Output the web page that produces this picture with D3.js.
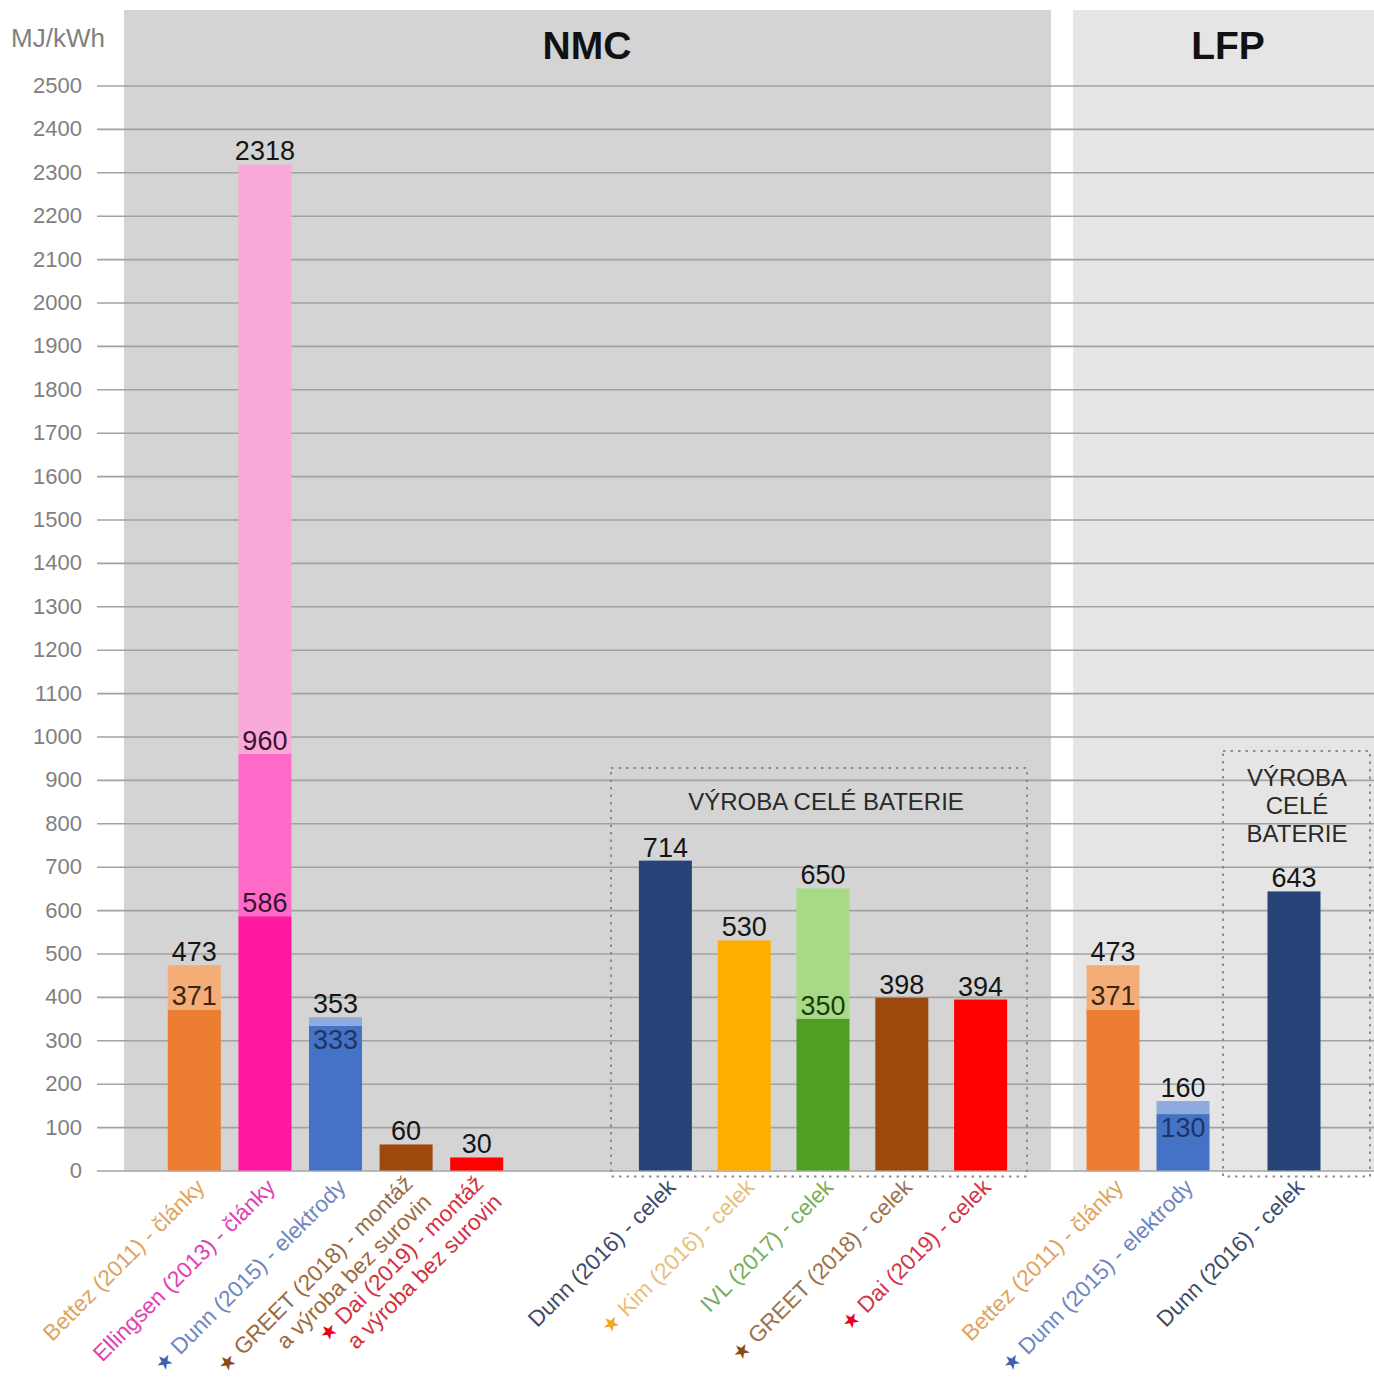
<!DOCTYPE html>
<html>
<head>
<meta charset="utf-8">
<script src="https://cdn.jsdelivr.net/npm/d3@7"></script>
<style>
  body { margin: 0; background: #fff; }
  svg { display: block; font-family: "Liberation Sans", Arial, sans-serif; }
</style>
</head>
<body>
<svg id="chart" width="1374" height="1380"></svg>
<script>
// ---- data -------------------------------------------------------------
// category labels (one array entry per line of a label)
const categories = [
  ["Bettez (2011) - články"],
  ["Ellingsen (2013) - články"],
  ["Dunn (2015) - elektrody"],
  ["GREET (2018) - montáž", "a výroba bez surovin"],
  ["Dai (2019) - montáž", "a výroba bez surovin"],
  ["Dunn (2016) - celek"],
  ["Kim (2016) - celek"],
  ["IVL (2017) - celek"],
  ["GREET (2018) - celek"],
  ["Dai (2019) - celek"],
  ["Bettez (2011) - články"],
  ["Dunn (2015) - elektrody"],
  ["Dunn (2016) - celek"]
];
// which studies carry a star mark
const starred = [false, false, true, true, true, false, true, false, true, true, false, true, false];
// bar group: 0 NMC parts, 1 NMC whole battery, 2 LFP parts, 3 LFP whole battery
const groupOf = [0, 0, 0, 0, 0, 1, 1, 1, 1, 1, 2, 2, 3];
// cumulative values of the stacked levels of each bar (MJ/kWh)
const values = [
  [371, 473], [586, 960, 2318], [333, 353], [60], [30],
  [714], [530], [350, 650], [398], [394],
  [371, 473], [130, 160], [643]
];
const yTicks = d3.range(0, 2501, 100);
const unitLabel = "MJ/kWh";
const panelTitles = ["NMC", "LFP"];
const boxTitle = "VÝROBA CELÉ BATERIE";
const boxTitleLines = ["VÝROBA", "CELÉ", "BATERIE"];

// ---- styles -----------------------------------------------------------
const barColors = [
  ["#ED7D31", "#F5AD78"], ["#FF17A2", "#FF6AC9", "#F8A9DA"], ["#4472C4", "#8EAADE"], ["#9E480E"], ["#FF0000"],
  ["#264478"], ["#FFAE00"], ["#4E9F22", "#A6DA85"], ["#9E480E"], ["#FF0000"],
  ["#ED7D31", "#F5AD78"], ["#4472C4", "#8EAADE"], ["#264478"]
];
const innerLabelColors = [
  ["#3a2412"], ["#3a1230", "#3a1230"], ["#1F3466"], [], [],
  [], [], ["#1b3a0c"], [], [],
  ["#3a2412"], ["#1F3466"], []
];
const textColors = ["#E0A45E", "#E040B4", "#6F86C0", "#9A6A42", "#D6303E",
  "#3E4C6C", "#E7C17A", "#78AE5C", "#9C7250", "#D23848",
  "#E0A45E", "#6F86C0", "#3E4C6C"];
const starColors = ["", "", "#3B63B0", "#8B4A14", "#E8001C", "", "#F5A623", "", "#8B4A14", "#E8001C", "", "#3B63B0", ""];

// ---- layout -----------------------------------------------------------
const svg = d3.select("#chart");
const y = d3.scaleLinear().domain([0, 2500]).range([1170.5, 85.5]);
const groupRanges = [[159, 512], [626, 1020], [1078, 1218], [1241, 1347]];
const barWidth = 53;
const groupScales = groupRanges.map((r, g) =>
  d3.scalePoint()
    .domain(categories.map((c, i) => i).filter(i => groupOf[i] === g))
    .range(r)
    .padding(0.5));
const cx = i => groupScales[groupOf[i]](i);

// panel backgrounds
const panels = [
  { x0: 124, x1: 1051, fill: "#d4d4d4", title: panelTitles[0] },
  { x0: 1073, x1: 1374, fill: "#e5e5e5", title: panelTitles[1] }
];
svg.selectAll("rect.panel").data(panels).join("rect")
  .attr("class", "panel")
  .attr("x", d => d.x0).attr("width", d => d.x1 - d.x0)
  .attr("y", 10).attr("height", y(0) - 10)
  .attr("fill", d => d.fill);

// gridlines and y axis labels
const yAxis = d3.axisLeft(y).tickValues(yTicks).tickFormat(d3.format("d"))
  .tickSize(-(1374 - 97)).tickPadding(15);
const ax = svg.append("g").attr("transform", "translate(97,0)").call(yAxis);
ax.select(".domain").remove();
ax.selectAll(".tick line").attr("stroke", "#a2a2a2").attr("stroke-width", 1.6)
  .attr("x1", 0).attr("x2", 1374 - 97);
ax.selectAll(".tick text").attr("fill", "#808080").attr("font-size", 22)
  .attr("font-family", "\"Liberation Sans\", Arial, sans-serif")
  .attr("x", -15);

svg.append("text").attr("x", 11).attr("y", 47)
  .attr("font-size", 26).attr("fill", "#808080").text(unitLabel);

// panel titles
svg.selectAll("text.ptitle").data(panels).join("text")
  .attr("class", "ptitle")
  .attr("x", (d, i) => i === 0 ? 587 : 1228).attr("y", 59)
  .attr("text-anchor", "middle").attr("font-size", 39).attr("font-weight", "bold")
  .attr("fill", "#111").text(d => d.title);

// bars as stacked segments
const segs = [];
values.forEach((lv, i) => lv.forEach((v, k) => {
  segs.push({ i, k, v, prev: k ? lv[k - 1] : 0, last: k === lv.length - 1, upper: k < lv.length - 1 ? lv[k + 1] : null });
}));
svg.selectAll("rect.bar").data(segs).join("rect")
  .attr("class", "bar")
  .attr("x", d => cx(d.i) - barWidth / 2).attr("width", barWidth)
  .attr("y", d => y(d.v)).attr("height", d => y(d.prev) - y(d.v))
  .attr("fill", d => barColors[d.i][d.k]);

// value labels
svg.selectAll("text.val").data(segs).join("text")
  .attr("class", "val")
  .attr("x", d => cx(d.i))
  .attr("y", d => {
    if (d.last) return y(d.v) - 4;
    const roomAbove = y(d.v) - y(d.upper);
    return roomAbove > 28 ? y(d.v) - 4 : y(d.v) + 23;
  })
  .attr("text-anchor", "middle").attr("font-size", 27)
  .attr("fill", d => d.last ? "#151515" : innerLabelColors[d.i][d.k])
  .text(d => d.v);

// dotted boxes around whole-battery bars
const boxes = [
  { x0: 611, x1: 1027, y0: 768 },
  { x0: 1223, x1: 1370, y0: 751 }
];
svg.selectAll("rect.box").data(boxes).join("rect")
  .attr("class", "box")
  .attr("x", d => d.x0).attr("y", d => d.y0)
  .attr("width", d => d.x1 - d.x0).attr("height", d => y(0) + 6 - d.y0)
  .attr("fill", "none").attr("stroke", "#8c8c8c").attr("stroke-width", 2)
  .attr("stroke-dasharray", "2.5,5");

svg.append("text").attr("x", 826).attr("y", 810)
  .attr("text-anchor", "middle").attr("font-size", 24).attr("fill", "#2a2a2a")
  .text(boxTitle);
svg.append("g").selectAll("text").data(boxTitleLines).join("text")
  .attr("x", 1297).attr("y", (d, i) => 786 + i * 28)
  .attr("text-anchor", "middle").attr("font-size", 24).attr("fill", "#2a2a2a")
  .text(d => d);

// rotated category labels
const catG = svg.selectAll("g.cat").data(categories).join("g")
  .attr("class", "cat")
  .attr("transform", (d, i) => `translate(${cx(i) + 6},1183) rotate(-45)`);
catG.each(function (lines, i) {
  const g = d3.select(this);
  const shift = lines.length > 1 ? -5 : 0;
  lines.forEach((line, li) => {
    const t = g.append("text")
      .attr("text-anchor", "end").attr("font-size", 22.5)
      .attr("y", shift + li * 26).attr("dy", "0.35em")
      .attr("fill", textColors[i]);
    if (li === 0 && starred[i]) {
      t.append("tspan").attr("fill", starColors[i])
        .attr("font-family", "\"DejaVu Sans\", sans-serif").attr("font-size", 20)
        .text("★");
      t.append("tspan").text(" ");
    }
    t.append("tspan").text(line);
  });
});
</script>
</body>
</html>
